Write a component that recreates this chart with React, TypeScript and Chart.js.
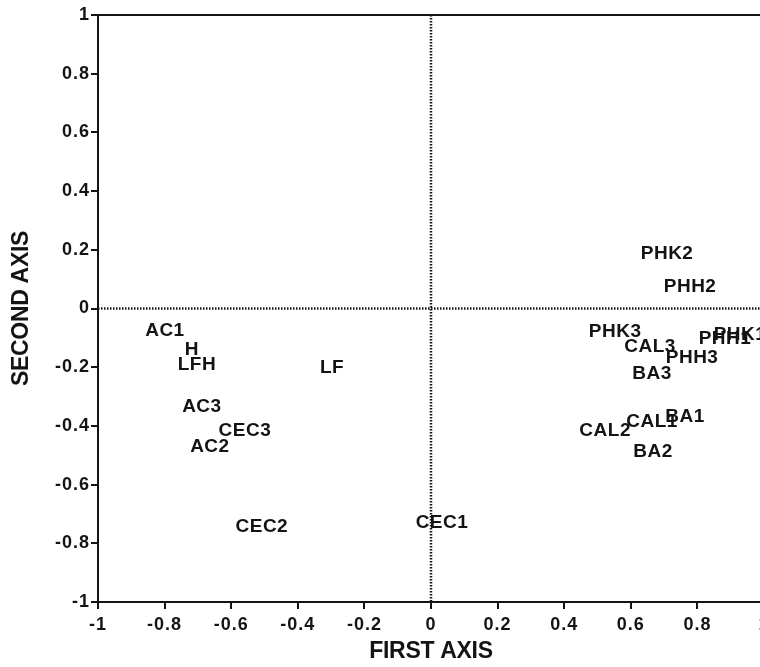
import { useEffect, useRef } from "react";
import { Chart, registerables } from "chart.js";

Chart.register(...registerables);

// Variable labels and their coordinates on the first two axes
const pointLabels = [
  "AC1", "H", "LFH", "LF", "AC3", "CEC3", "AC2", "CEC2", "CEC1",
  "PHK2", "PHH2", "PHK3", "CAL3", "PHH3", "BA3", "PHH1", "PHK1",
  "BA1", "CAL1", "CAL2", "BA2",
];
const firstAxis = [
  -0.799, -0.718, -0.703, -0.297, -0.688, -0.559, -0.664, -0.508, 0.033,
  0.709, 0.778, 0.553, 0.658, 0.784, 0.664, 0.883, 0.928,
  0.763, 0.664, 0.523, 0.667,
];
const secondAxis = [
  -0.077, -0.141, -0.193, -0.203, -0.336, -0.417, -0.472, -0.744, -0.73,
  0.186, 0.073, -0.08, -0.131, -0.169, -0.223, -0.104, -0.09,
  -0.37, -0.387, -0.417, -0.489,
];
const tickValues = [-1, -0.8, -0.6, -0.4, -0.2, 0, 0.2, 0.4, 0.6, 0.8, 1];
const xTitle = "FIRST AXIS";
const yTitle = "SECOND AXIS";

const FONT = '"Liberation Sans", Arial, Helvetica, sans-serif';
const INK = "#141414";

export default function App() {
  const ref = useRef<HTMLCanvasElement>(null);

  useEffect(() => {
    if (!ref.current) return;

    const spacingPlugin = {
      id: "spacing",
      beforeDraw(chart: any) {
        chart.ctx.letterSpacing = "1px";
      },
    };

    const framePlugin = {
      id: "frame",
      beforeDatasetsDraw(chart: any) {
        const { ctx, chartArea, scales } = chart;
        const x0 = scales.x.getPixelForValue(0);
        const y0 = scales.y.getPixelForValue(0);
        ctx.save();
        ctx.strokeStyle = INK;
        ctx.lineWidth = 2;
        ctx.setLineDash([]);
        ctx.beginPath();
        ctx.moveTo(chartArea.left, chartArea.top);
        ctx.lineTo(chartArea.right, chartArea.top);
        ctx.lineTo(chartArea.right, chartArea.bottom);
        ctx.stroke();
        ctx.lineWidth = 2.5;
        ctx.setLineDash([1.5, 1.5]);
        ctx.beginPath();
        ctx.moveTo(x0, chartArea.top);
        ctx.lineTo(x0, chartArea.bottom);
        ctx.moveTo(chartArea.left, y0);
        ctx.lineTo(chartArea.right, y0);
        ctx.stroke();
        ctx.restore();
      },
      afterDatasetsDraw(chart: any) {
        const { ctx } = chart;
        const meta = chart.getDatasetMeta(0);
        ctx.save();
        ctx.letterSpacing = "0.5px";
        ctx.font = `bold 19px ${FONT}`;
        ctx.fillStyle = INK;
        ctx.textAlign = "center";
        ctx.textBaseline = "middle";
        meta.data.forEach((el: any, i: number) => {
          ctx.fillText(pointLabels[i], el.x, el.y);
        });
        ctx.restore();
      },
      afterDraw(chart: any) {
        const { ctx, chartArea, scales } = chart;
        ctx.save();
        ctx.letterSpacing = "-0.3px";
        ctx.font = `bold 23px ${FONT}`;
        ctx.fillStyle = INK;
        ctx.textAlign = "center";
        ctx.textBaseline = "middle";
        ctx.fillText(xTitle, (chartArea.left + chartArea.right) / 2, scales.x.bottom - 15);
        ctx.translate(scales.y.left + 22, (chartArea.top + chartArea.bottom) / 2);
        ctx.rotate(-Math.PI / 2);
        ctx.fillText(yTitle, 0, 0);
        ctx.restore();
      },
    };

    const fmt = (v: any) => String(Number(Number(v).toFixed(1)));

    const chart = new Chart(ref.current, {
      type: "scatter",
      data: {
        datasets: [
          {
            data: firstAxis.map((x, i) => ({ x, y: secondAxis[i] })),
            pointRadius: 0,
            pointHoverRadius: 0,
          },
        ],
      },
      options: {
        animation: false,
        responsive: true,
        maintainAspectRatio: false,
        layout: { padding: { top: 15, right: 16, left: 0, bottom: 0 } },
        plugins: {
          legend: { display: false },
          tooltip: { enabled: false },
        },
        scales: {
          x: {
            type: "linear",
            min: -1,
            max: 1,
            afterBuildTicks: (s: any) => {
              s.ticks = tickValues.map((v) => ({ value: v }));
            },
            afterFit: (s: any) => {
              s.height = 65;
            },
            ticks: {
              callback: fmt,
              autoSkip: false,
              maxRotation: 0,
              padding: 5,
              color: INK,
              font: { family: FONT, size: 18, weight: "bold" },
            },
            grid: {
              drawOnChartArea: false,
              drawTicks: true,
              tickLength: 7,
              color: INK,
              lineWidth: 2,
            },
            border: { display: true, color: INK, width: 2 },
            title: { display: false },
          },
          y: {
            type: "linear",
            min: -1,
            max: 1,
            afterBuildTicks: (s: any) => {
              s.ticks = tickValues.map((v) => ({ value: v }));
            },
            afterFit: (s: any) => {
              s.width = 98;
            },
            ticks: {
              callback: fmt,
              autoSkip: false,
              padding: 1,
              color: INK,
              font: { family: FONT, size: 18, weight: "bold" },
            },
            grid: {
              drawOnChartArea: false,
              drawTicks: true,
              tickLength: 7,
              color: INK,
              lineWidth: 2,
            },
            border: { display: true, color: INK, width: 2 },
            title: { display: false },
          },
        },
      },
      plugins: [spacingPlugin, framePlugin],
    } as any);

    return () => chart.destroy();
  }, []);

  return (
    <div
      style={{
        position: "fixed",
        left: 0,
        top: 0,
        width: 760,
        height: 667,
        overflow: "hidden",
        background: "#fff",
      }}
    >
      <div style={{ position: "relative", width: 780, height: 667 }}>
        <canvas ref={ref} />
      </div>
    </div>
  );
}
